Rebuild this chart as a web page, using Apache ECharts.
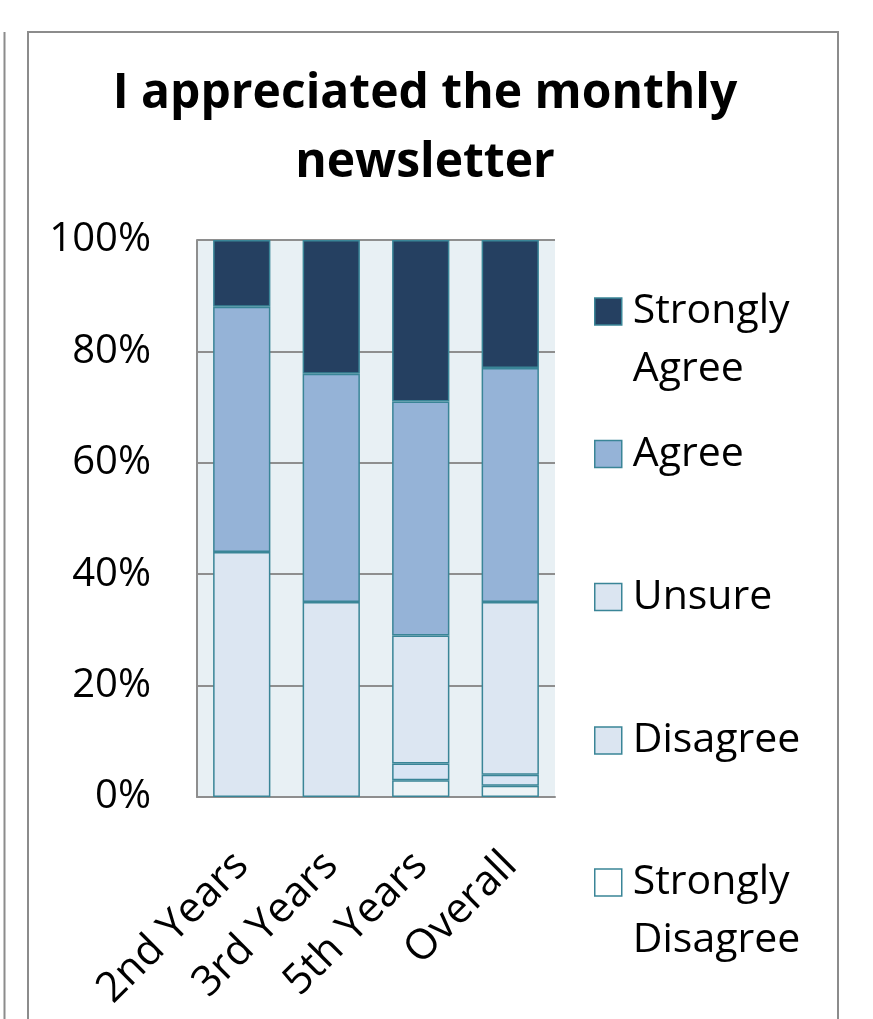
<!DOCTYPE html>
<html>
<head>
<meta charset="utf-8">
<script src="https://cdn.jsdelivr.net/npm/echarts@6/dist/echarts.min.js"></script>
<style>
  html, body { margin: 0; padding: 0; background: #fff; }
  #chart { width: 873px; height: 1019px; }
</style>
</head>
<body>
<div id="chart"></div>
<script>
// survey answers, percent of respondents per group
const categories = ["2nd Years", "3rd Years", "5th Years", "Overall"];
const stronglyDisagree = [0, 0, 3, 2];
const disagree = [0, 0, 3, 2];
const unsure = [44, 35, 23, 31];
const agree = [44, 41, 42, 42];
const stronglyAgree = [12, 24, 29, 23];
const yTicks = [0, 20, 40, 60, 80, 100];

const FONT = "'Open Sans', 'Noto Sans', sans-serif";
const EDGE = "#3a8597";
const GREY = "#8e8e8e";

const seriesDefs = [
  { name: "Strongly Disagree", data: stronglyDisagree, color: "#edf3f6", legendColor: "#ffffff" },
  { name: "Disagree", data: disagree, color: "#d9e5f4", legendColor: "#dbe5f1" },
  { name: "Unsure", data: unsure, color: "#dce6f2", legendColor: "#dbe5f1" },
  { name: "Agree", data: agree, color: "#95b3d7", legendColor: "#95b3d7" },
  { name: "Strongly Agree", data: stronglyAgree, color: "#254061", legendColor: "#254061" },
];

// legend entries are placed one by one, icon centre y for each
// (two-line labels get an empty first line so the icon sits on the first word)
const legendSpots = [
  { name: "Strongly Agree", label: "\nStrongly\nAgree", cy: 311.5 },
  { name: "Agree", label: "Agree", cy: 454 },
  { name: "Unsure", label: "Unsure", cy: 597 },
  { name: "Disagree", label: "Disagree", cy: 740.5 },
  { name: "Strongly Disagree", label: "\nStrongly\nDisagree", cy: 882.5 },
];
const LINE_H = 58;

const chart = echarts.init(document.getElementById("chart"));

const legends = legendSpots.map(s => {
  const lines = s.label.split("\n").length;
  const def = seriesDefs.find(d => d.name === s.name);
  return {
    orient: "vertical",
    left: 594,
    top: s.cy - (LINE_H * lines) / 2,
    padding: 0,
    itemWidth: 27,
    itemHeight: 27,
    icon: "rect",
    selectedMode: false,
    formatter: () => s.label,
    textStyle: {
      fontFamily: FONT,
      fontSize: 41,
      color: "#000",
      lineHeight: LINE_H,
      padding: [0, 0, 0, 6],
    },
    data: [{ name: s.name, itemStyle: { color: def.legendColor, borderColor: EDGE, borderWidth: 1.5 } }],
  };
});

chart.setOption({
  animation: false,
  backgroundColor: "#fff",
  legend: legends,
  grid: {
    left: 197, right: 318, top: 240, bottom: 222,
    show: true, backgroundColor: "#e8f0f4", borderWidth: 0,
  },
  xAxis: {
    type: "category",
    data: categories,
    axisLine: { lineStyle: { color: GREY, width: 2 } },
    axisTick: { show: false },
    axisLabel: {
      rotate: 45,
      margin: 62,
      fontFamily: FONT,
      fontSize: 42,
      color: "#000",
      interval: 0,
    },
  },
  yAxis: {
    type: "value",
    min: 0,
    max: 100,
    interval: 20,
    axisLine: { show: true, lineStyle: { color: GREY, width: 2 } },
    axisTick: { show: false },
    splitLine: { lineStyle: { color: GREY, width: 2 } },
    axisLabel: {
      margin: 46,
      fontFamily: FONT,
      fontSize: 40,
      color: "#000",
      formatter: v => (yTicks.includes(v) ? v + "%" : ""),
    },
  },
  series: seriesDefs.map(d => ({
    name: d.name,
    type: "bar",
    stack: "total",
    barCategoryGap: "36%",
    // empty segments get no outline, as in the source chart
    data: d.data.map(v => (v === 0 ? { value: v, itemStyle: { borderWidth: 0 } } : v)),
    itemStyle: { color: d.color, borderColor: EDGE, borderWidth: 1.5 },
  })),
  graphic: [
    {
      type: "rect",
      shape: { x: 28, y: 32, width: 810, height: 1010 },
      style: { fill: "none", stroke: "#8c8c8c", lineWidth: 2 },
      silent: true,
    },
    {
      type: "line",
      shape: { x1: 4.5, y1: 32, x2: 4.5, y2: 1019 },
      style: { stroke: "#8c8c8c", lineWidth: 2 },
      silent: true,
    },
    {
      type: "text",
      x: 425,
      y: 60,
      style: {
        text: "I appreciated the monthly\nnewsletter",
        font: "bold 48px " + FONT,
        fill: "#000",
        textAlign: "center",
        textVerticalAlign: "top",
        lineHeight: 69,
      },
      silent: true,
    },
  ],
});
</script>
</body>
</html>
